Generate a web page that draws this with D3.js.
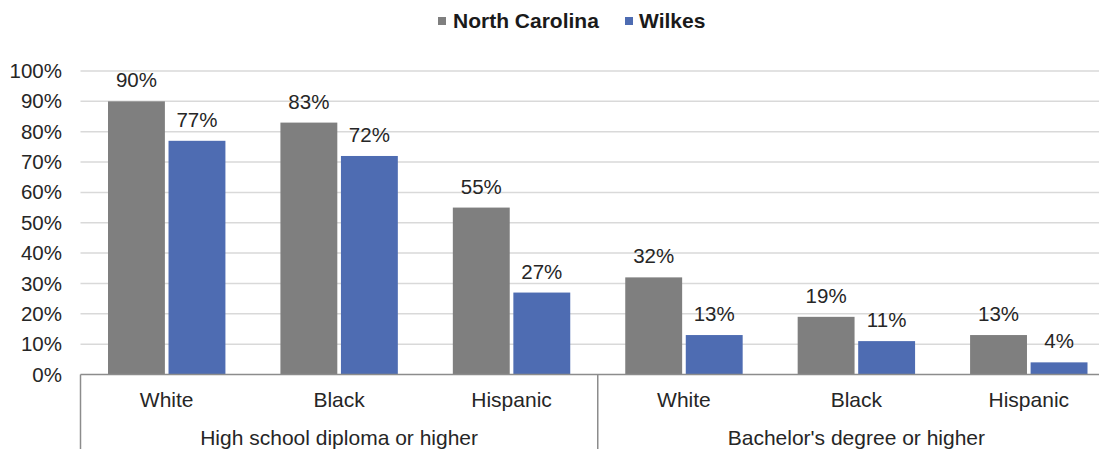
<!DOCTYPE html>
<html>
<head>
<meta charset="utf-8">
<script src="https://cdn.jsdelivr.net/npm/d3@7"></script>
<style>
  html, body { margin: 0; padding: 0; background: #fff; }
  svg { display: block; font-family: "Liberation Sans", Arial, sans-serif; }
</style>
</head>
<body>
<svg id="chart" width="1099" height="449"></svg>
<script>
// Educational attainment by race: North Carolina vs. Wilkes County
const races = ["White", "Black", "Hispanic", "White", "Black", "Hispanic"];
const groupOf = [0, 0, 0, 1, 1, 1];
const groups = ["High school diploma or higher", "Bachelor's degree or higher"];
const seriesNames = ["North Carolina", "Wilkes"];
const ncValues = [90, 83, 55, 32, 19, 13];
const wilkesValues = [77, 72, 27, 13, 11, 4];
const yTicks = [0, 10, 20, 30, 40, 50, 60, 70, 80, 90, 100];
const colors = ["#7f7f7f", "#4e6cb2"];

const svg = d3.select("#chart");
const W = 1099, H = 449;
const plot = { left: 80.5, right: 1115, top: 71, bottom: 374.5 };

const x = d3.scaleBand()
  .domain(d3.range(races.length))
  .range([plot.left, plot.right])
  .paddingInner(0).paddingOuter(0);

const xs = d3.scaleBand()
  .domain(seriesNames)
  .range([27.5, x.bandwidth() - 27.5])
  .paddingInner(0.06);

const y = d3.scaleLinear().domain([0, 100]).range([plot.bottom, plot.top]);

const textColor = "#262626";
const numSize = 20.5;
const catSize = 21;

// gridlines
svg.append("g")
  .selectAll("line")
  .data(yTicks.filter(d => d > 0))
  .join("line")
  .attr("x1", plot.left).attr("x2", W)
  .attr("y1", d => y(d)).attr("y2", d => y(d))
  .attr("stroke", "#d9d9d9").attr("stroke-width", 1.5);

// y-axis labels
const yAxis = d3.axisLeft(y).tickValues(yTicks).tickFormat(d => d + "%").tickSize(0).tickPadding(0);
const yg = svg.append("g").attr("transform", `translate(62,0)`).call(yAxis);
yg.select(".domain").remove();
yg.selectAll("text")
  .attr("font-size", numSize).attr("fill", textColor)
  .attr("font-family", "Liberation Sans, Arial, sans-serif");

// bars
const rows = races.map((r, i) => ({ i, values: [ncValues[i], wilkesValues[i]] }));
const cat = svg.append("g").selectAll("g")
  .data(rows).join("g")
  .attr("transform", d => `translate(${x(d.i)},0)`);

cat.selectAll("rect")
  .data(d => d.values.map((v, k) => ({ v, k })))
  .join("rect")
  .attr("x", d => xs(seriesNames[d.k]))
  .attr("width", xs.bandwidth())
  .attr("y", d => y(d.v))
  .attr("height", d => y(0) - y(d.v))
  .attr("fill", d => colors[d.k]);

cat.selectAll("text")
  .data(d => d.values.map((v, k) => ({ v, k })))
  .join("text")
  .attr("x", d => xs(seriesNames[d.k]) + xs.bandwidth() / 2)
  .attr("y", d => y(d.v) - 14)
  .attr("text-anchor", "middle")
  .attr("font-size", numSize).attr("fill", textColor)
  .text(d => d.v + "%");

// category axis with group separators
const axisColor = "#8c8c8c";
svg.append("line")
  .attr("x1", plot.left).attr("x2", W)
  .attr("y1", y(0)).attr("y2", y(0))
  .attr("stroke", axisColor).attr("stroke-width", 1.5);

const sepX = [x(0), x(3), x(5) + x.bandwidth()];
svg.append("g").selectAll("line")
  .data(sepX).join("line")
  .attr("x1", d => d).attr("x2", d => d)
  .attr("y1", y(0)).attr("y2", H)
  .attr("stroke", axisColor).attr("stroke-width", 1.5);

svg.append("g").selectAll("text")
  .data(rows).join("text")
  .attr("x", d => x(d.i) + x.bandwidth() / 2)
  .attr("y", 407)
  .attr("text-anchor", "middle")
  .attr("font-size", catSize).attr("fill", textColor)
  .text(d => races[d.i]);

svg.append("g").selectAll("text")
  .data(groups).join("text")
  .attr("x", (d, g) => {
    const idx = d3.range(races.length).filter(i => groupOf[i] === g);
    return (x(idx[0]) + x(idx[idx.length - 1]) + x.bandwidth()) / 2;
  })
  .attr("y", 445)
  .attr("text-anchor", "middle")
  .attr("font-size", catSize).attr("fill", textColor)
  .text(d => d);

// legend
const legendItems = [
  { name: seriesNames[0], color: colors[0], sx: 438, tx: 453 },
  { name: seriesNames[1], color: colors[1], sx: 625, tx: 639 }
];
const lg = svg.append("g");
lg.selectAll("rect").data(legendItems).join("rect")
  .attr("x", d => d.sx).attr("y", 17).attr("width", 8).attr("height", 8)
  .attr("fill", d => d.color);
lg.selectAll("text").data(legendItems).join("text")
  .attr("x", d => d.tx).attr("y", 28)
  .attr("font-size", 21).attr("font-weight", "bold").attr("fill", "#1a1a1a")
  .text(d => d.name);
</script>
</body>
</html>
